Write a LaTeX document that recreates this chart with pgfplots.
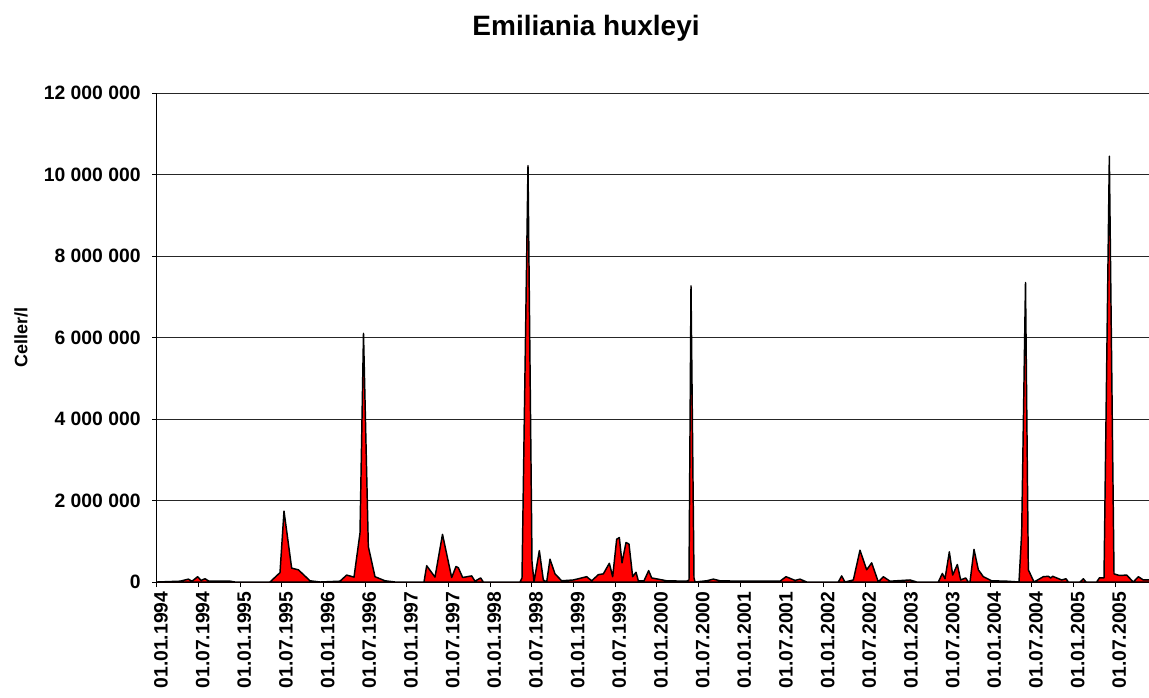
\documentclass[border=0pt]{standalone}
\usepackage{fontspec}
\setmainfont{Liberation Sans}
\usepackage{pgfplots}
\pgfplotsset{compat=1.18}

% cells per litre, x in decimal years
\pgfplotstableread{
year      cells
1994.000  0
1994.276  20000
1994.376  70000
1994.420  20000
1994.488  130000
1994.528  40000
1994.576  80000
1994.624  20000
1994.876  20000
1994.936  0
1995.356  0
1995.476  230000
1995.524  1740000
1995.616  340000
1995.696  300000
1995.836  30000
1995.956  0
1996.196  20000
1996.276  170000
1996.364  120000
1996.436  1200000
1996.478  6100000
1996.536  870000
1996.616  130000
1996.736  30000
1996.856  0
1997.204  0
1997.236  400000
1997.336  120000
1997.426  1170000
1997.536  110000
1997.588  380000
1997.616  350000
1997.668  110000
1997.776  150000
1997.816  20000
1997.884  100000
1997.916  0
1998.356  0
1998.380  100000
1998.452  10220000
1998.500  500000
1998.524  0
1998.588  770000
1998.636  50000
1998.676  0
1998.716  560000
1998.776  200000
1998.856  30000
1998.996  50000
1999.156  130000
1999.216  30000
1999.296  180000
1999.356  200000
1999.428  460000
1999.468  130000
1999.516  1050000
1999.548  1090000
1999.580  470000
1999.628  970000
1999.664  930000
1999.708  130000
1999.748  240000
1999.776  30000
1999.844  30000
1999.900  280000
1999.936  100000
2000.116  30000
2000.356  20000
2000.384  50000
2000.408  7270000
2000.444  100000
2000.456  0
2000.596  30000
2000.676  70000
2000.756  30000
2000.996  20000
2001.476  20000
2001.548  130000
2001.656  40000
2001.716  70000
2001.796  0
2002.176  0
2002.216  150000
2002.256  0
2002.356  50000
2002.436  780000
2002.516  300000
2002.576  470000
2002.656  0
2002.716  130000
2002.796  20000
2003.036  50000
2003.116  0
2003.376  0
2003.424  210000
2003.456  80000
2003.508  740000
2003.548  170000
2003.604  430000
2003.644  50000
2003.704  100000
2003.736  0
2003.756  0
2003.804  800000
2003.856  300000
2003.916  130000
2004.016  30000
2004.196  20000
2004.344  0
2004.376  1200000
2004.422  7350000
2004.456  300000
2004.524  0
2004.636  130000
2004.696  140000
2004.724  100000
2004.748  140000
2004.856  50000
2004.908  80000
2004.936  0
2005.076  0
2005.116  80000
2005.148  0
2005.276  0
2005.308  100000
2005.364  100000
2005.428  10450000
2005.484  200000
2005.548  160000
2005.636  170000
2005.716  0
2005.776  130000
2005.836  50000
2005.904  50000
2006.000  50000
}\ehux

\newcommand\ticksize{\bfseries\fontsize{14.5}{17}\selectfont}

\begin{document}
\begin{tikzpicture}
\begin{axis}[
  name=ax,
  scale only axis,
  width=744pt, height=366.75pt,
  xmin=1994, xmax=2005.904,
  ymin=0, ymax=12000000,
  axis x line*=bottom,
  axis y line*=left,
  axis line style={black, line width=0.75pt},
  tick align=outside,
  major tick length=3.75pt,
  tick style={black, line width=0.75pt},
  scaled y ticks=false,
  ytick={0,2000000,4000000,6000000,8000000,10000000,12000000},
  yticklabels={0,2 000 000,4 000 000,6 000 000,8 000 000,10 000 000,12 000 000},
  yticklabel style={font=\ticksize, xshift=-5pt},
  xtick={1994,1994.5,...,2005.5},
  xticklabels={01.01.1994,01.07.1994,01.01.1995,01.07.1995,01.01.1996,01.07.1996,
    01.01.1997,01.07.1997,01.01.1998,01.07.1998,01.01.1999,01.07.1999,
    01.01.2000,01.07.2000,01.01.2001,01.07.2001,01.01.2002,01.07.2002,
    01.01.2003,01.07.2003,01.01.2004,01.07.2004,01.01.2005,01.07.2005},
  xticklabel style={font=\ticksize, rotate=90, anchor=east, yshift=-3pt},
  ymajorgrids,
  grid style={black!85, line width=0.6pt},
  ylabel={Celler/l},
  ylabel style={font=\bfseries\fontsize{13.5}{15}\selectfont, at={(axis description cs:0,0.5)}, anchor=center, yshift=102pt},
  title={Emiliania huxleyi},
  title style={font=\bfseries\fontsize{21}{25}\selectfont, at={(0.4325,1)}, anchor=base, yshift=37.5pt},
]
\addplot[fill=red, draw=black, line width=1.1pt, line join=round] table[x=year, y=cells] {\ehux} \closedcycle;
\end{axis}
\pgfresetboundingbox
\path[use as bounding box] ([shift={(-117.75pt,-86.25pt)}]ax.south west) rectangle ([shift={(0pt,69.75pt)}]ax.north east);
\end{tikzpicture}
\end{document}
